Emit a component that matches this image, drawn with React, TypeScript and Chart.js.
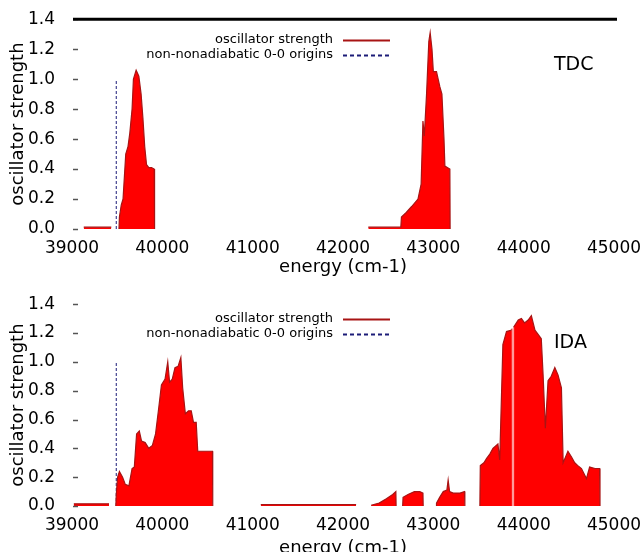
import React, { useEffect, useRef } from 'react';
import { Chart, registerables } from 'chart.js';

Chart.register(...registerables);

// ---- data ----
const xTicks = [39000, 40000, 41000, 42000, 43000, 44000, 45000];
const yTicks = [0, 0.2, 0.4, 0.6, 0.8, 1.0, 1.2, 1.4];
const panelLabels = ['TDC', 'IDA'];
const legendLabels = ['oscillator strength', 'non-nonadiabatic 0-0 origins'];
const xTitle = 'energy (cm-1)';
const yTitle = 'oscillator strength';

// null strength = gap between separate pieces of the spectrum
const tdcEnergy = [
  39130, 39435, 39470,
  39520, 39525, 39545, 39565, 39595, 39620, 39640, 39665, 39680, 39710, 39740, 39765, 39785, 39805, 39825, 39850, 39880, 39910, 39914, 40000,
  42280, 42640, 42647, 42700, 42760, 42830, 42865, 42885, 42900, 42925, 42950, 42965, 42985, 43000, 43035, 43072, 43095, 43118, 43128, 43183, 43186,
];
const tdcStrength = [
  0.012, 0.012, null,
  0, 0.08, 0.16, 0.2, 0.5, 0.55, 0.64, 0.8, 1.0, 1.06, 1.02, 0.9, 0.74, 0.55, 0.43, 0.41, 0.41, 0.4, 0, null,
  0.012, 0.012, 0.08, 0.11, 0.15, 0.2, 0.3, 0.72, 0.62, 0.9, 1.25, 1.31, 1.2, 1.05, 1.05, 0.95, 0.9, 0.6, 0.42, 0.4, 0,
];

const idaEnergy = [
  39020, 39410, 39450,
  39485, 39490, 39505, 39525, 39560, 39590, 39630, 39665, 39690, 39715, 39745, 39770, 39810, 39850, 39890, 39925, 39960, 39990, 40030, 40060, 40080, 40110, 40140, 40175, 40205, 40225, 40255, 40290, 40320, 40345, 40375, 40392, 40450, 40520, 40555, 40558, 40800,
  41090, 42145, 42200,
  42311, 42400, 42480, 42550, 42585, 42588, 42620,
  42660, 42665, 42720, 42790, 42850, 42885, 42888, 42950,
  43030, 43035, 43070, 43110, 43150, 43164, 43180, 43220, 43295, 43345, 43349, 43430,
  43515, 43520, 43560, 43590, 43625, 43660, 43715, 43735, 43770, 43810, 43865, 43874, 43876, 43886, 43888, 43940, 43975, 44010, 44050, 44085, 44125, 44160, 44195, 44215, 44240, 44270, 44305, 44345, 44380, 44418, 44437, 44490, 44530, 44565, 44600, 44640, 44695, 44730, 44790, 44840, 44845,
];
const idaStrength = [
  0.015, 0.015, null,
  0, 0.08, 0.2, 0.24, 0.2, 0.15, 0.14, 0.26, 0.27, 0.5, 0.52, 0.45, 0.44, 0.4, 0.42, 0.5, 0.68, 0.84, 0.88, 1.0, 0.86, 0.88, 0.96, 0.97, 1.03, 0.82, 0.64, 0.66, 0.66, 0.58, 0.58, 0.38, 0.38, 0.38, 0.38, 0, null,
  0.01, 0.01, null,
  0.005, 0.02, 0.05, 0.08, 0.1, 0, null,
  0, 0.06, 0.08, 0.1, 0.1, 0.09, 0, null,
  0, 0.02, 0.06, 0.1, 0.11, 0.18, 0.1, 0.09, 0.09, 0.1, 0, null,
  0, 0.28, 0.3, 0.33, 0.36, 0.4, 0.43, 0.32, 1.12, 1.21, 1.22, 1.23, 0, 0, 1.24, 1.29, 1.3, 1.27, 1.29, 1.32, 1.22, 1.19, 1.16, 0.91, 0.54, 0.87, 0.9, 0.96, 0.91, 0.82, 0.3, 0.38, 0.34, 0.3, 0.28, 0.26, 0.19, 0.27, 0.26, 0.26, 0,
];

const originEnergy = [39490, 39490];
const originStrength = [0, 1.0];

// ---- styling ----
const FONT = '"DejaVu Sans", Verdana, sans-serif';
const SPEC_LINE = '#a81414';
const SPEC_FILL = '#ff0000';
const ORIGIN_LINE = '#1c1c78';

const gnuplotDecor = {
  id: 'gnuplotDecor',
  afterDatasetsDraw(chart: any, _args: any, opts: any) {
    const { ctx, chartArea: a, scales } = chart;
    const ys = scales.y;
    ctx.save();
    // inward y tick marks
    ctx.strokeStyle = '#555';
    ctx.lineWidth = 1.5;
    yTicks.forEach((v) => {
      const py = Math.round(ys.getPixelForValue(v)) + 0.5;
      ctx.beginPath();
      ctx.moveTo(a.left + 1, py);
      ctx.lineTo(a.left + 6, py);
      ctx.stroke();
    });
    // top border line (only in first panel)
    if (opts.topLine) {
      const py = ys.getPixelForValue(yTicks[yTicks.length - 1]);
      ctx.strokeStyle = '#000';
      ctx.lineWidth = 3;
      ctx.beginPath();
      ctx.moveTo(a.left + 1, py);
      ctx.lineTo(a.right + 3, py);
      ctx.stroke();
    }
    // panel label
    ctx.fillStyle = '#000';
    ctx.font = `19px ${FONT}`;
    ctx.textAlign = 'left';
    ctx.textBaseline = 'alphabetic';
    ctx.fillText(opts.label, opts.labelX, opts.labelY);
    // gnuplot-style key
    ctx.font = `13px ${FONT}`;
    ctx.textAlign = 'right';
    ctx.textBaseline = 'middle';
    chart.data.datasets.forEach((ds: any, i: number) => {
      const y = opts.keyY + i * opts.keyGap;
      ctx.fillStyle = '#000';
      ctx.fillText(ds.label, opts.keyX, y);
      ctx.strokeStyle = ds.borderColor;
      ctx.lineWidth = 2;
      ctx.setLineDash(ds.borderDash ? [4, 3] : []);
      ctx.beginPath();
      ctx.moveTo(opts.keyX + 10, Math.round(y) + 0.5);
      ctx.lineTo(opts.keyX + 57, Math.round(y) + 0.5);
      ctx.stroke();
      ctx.setLineDash([]);
    });
    ctx.restore();
  },
};

function makeConfig(energy: number[], strength: (number | null)[], panel: any): any {
  const spectrum = energy.map((e, i) => ({ x: e, y: strength[i] }));
  const origin = originEnergy.map((e, i) => ({ x: e, y: originStrength[i] }));
  return {
    type: 'line',
    data: {
      datasets: [
        {
          label: legendLabels[0],
          data: spectrum,
          borderColor: SPEC_LINE,
          borderWidth: 1.2,
          backgroundColor: SPEC_FILL,
          fill: 'origin',
          pointRadius: 0,
          spanGaps: false,
          tension: 0,
          segment: {
            borderColor: (c: any) => {
              const y0 = c.p0.parsed.y;
              const y1 = c.p1.parsed.y;
              if (y0 === 0 && y1 === 0) return 'rgba(0,0,0,0)';
              if (Math.abs(c.p1.parsed.x - c.p0.parsed.x) <= 2) return '#ff9a9a';
              return undefined;
            },
          },
        },
        {
          label: legendLabels[1],
          data: origin,
          borderColor: ORIGIN_LINE,
          borderWidth: 1,
          borderDash: [3, 2],
          pointRadius: 0,
          fill: false,
        },
      ],
    },
    options: {
      responsive: false,
      animation: false,
      events: [],
      layout: { padding: { top: panel.padTop, right: 30, left: 0, bottom: 0 } },
      plugins: {
        legend: { display: false },
        tooltip: { enabled: false },
        gnuplotDecor: panel.decor,
      },
      scales: {
        x: {
          type: 'linear',
          min: xTicks[0],
          max: xTicks[xTicks.length - 1],
          afterBuildTicks: (s: any) => {
            s.ticks = xTicks.map((v) => ({ value: v }));
          },
          grid: { display: false },
          border: { display: false },
          ticks: {
            font: { size: 17, family: FONT },
            color: '#000',
            padding: 1,
            maxRotation: 0,
            autoSkip: false,
            callback: (v: any) => String(v),
          },
          title: {
            display: true,
            text: xTitle,
            font: { size: 18, family: FONT },
            color: '#000',
            padding: { top: 0, bottom: panel.titlePad },
          },
          afterFit: (s: any) => {
            s.height = panel.xHeight;
          },
        },
        y: {
          min: 0,
          max: 1.4,
          afterBuildTicks: (s: any) => {
            s.ticks = yTicks.map((v) => ({ value: v }));
          },
          grid: { display: false },
          border: { display: false },
          ticks: {
            font: { size: 17, family: FONT },
            color: '#000',
            padding: 9,
            callback: (v: any) => Number(v).toFixed(1),
          },
          title: {
            display: true,
            text: yTitle,
            font: { size: 18, family: FONT },
            color: '#000',
            padding: { top: 8, bottom: 0 },
          },
          afterFit: (s: any) => {
            s.width = 72;
          },
        },
      },
    },
    plugins: [gnuplotDecor],
  };
}

export default function App() {
  const topRef = useRef<HTMLCanvasElement>(null);
  const botRef = useRef<HTMLCanvasElement>(null);

  useEffect(() => {
    const top = new Chart(
      topRef.current as HTMLCanvasElement,
      makeConfig(tdcEnergy, tdcStrength, {
        padTop: 16,
        xHeight: 56,
        titlePad: 7,
        decor: { topLine: true, label: panelLabels[0], labelX: 554, labelY: 70, keyX: 333, keyY: 40, keyGap: 15 },
      })
    );
    const bottom = new Chart(
      botRef.current as HTMLCanvasElement,
      makeConfig(idaEnergy, idaStrength, {
        padTop: 12,
        xHeight: 53,
        titlePad: 0,
        decor: { topLine: false, label: panelLabels[1], labelX: 554, labelY: 63, keyX: 333, keyY: 34, keyGap: 15 },
      })
    );
    return () => {
      top.destroy();
      bottom.destroy();
    };
  }, []);

  return (
    <div
      style={{
        position: 'absolute',
        left: 0,
        top: 0,
        width: 644,
        height: 552,
        overflow: 'hidden',
        background: '#fff',
      }}
    >
      <canvas
        ref={topRef}
        width={644}
        height={285}
        style={{ position: 'absolute', left: 0, top: 0, width: 644, height: 285 }}
      />
      <canvas
        ref={botRef}
        width={644}
        height={274}
        style={{ position: 'absolute', left: 0, top: 285, width: 644, height: 274 }}
      />
    </div>
  );
}
